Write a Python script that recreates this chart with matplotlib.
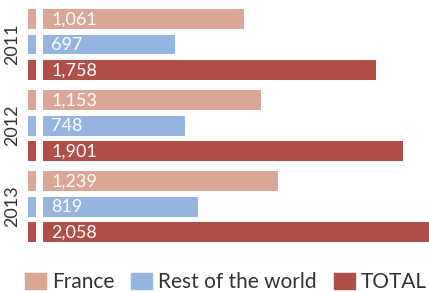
import matplotlib
matplotlib.use('Agg')
import matplotlib.pyplot as plt
from matplotlib.patches import Patch

years = ['2011', '2012', '2013']
series = ['France', 'Rest of the world', 'TOTAL']
france = [1061, 1153, 1239]
rest = [697, 748, 819]
total = [1758, 1901, 2058]

colors = ['#DBA597', '#95B4DF', '#B04F47']

plt.rcParams['font.family'] = ['Lato', 'DejaVu Sans']

fig = plt.figure(figsize=(4.29, 2.92), dpi=100)
ax = fig.add_axes([28 / 429, 42 / 292, 401 / 429, 250 / 292])

values = [france, rest, total]
for g, year in enumerate(years):
    for k in range(3):
        y = 0.745 + g * 3.18 + k
        v = values[k][g]
        # petit repère à gauche
        ax.barh(y, 40, left=-82, height=0.78, color=colors[k])
        ax.barh(y, v, left=0, height=0.78, color=colors[k])
        ax.text(40, y + 0.03, f'{v:,}', color='white', fontsize=13,
                va='center', ha='left')
    ax.text(-82 - 16 / 0.189, 0.745 + g * 3.18 + 1, year, rotation=90,
            fontsize=13, color='#333333', va='center', ha='center')

ax.set_xlim(-82, 2040)
ax.set_ylim(250 / 25.5, 0)
ax.axis('off')

handles = [Patch(color=c) for c in colors]
fig.legend(handles, series, loc='lower center', ncol=3,
           bbox_to_anchor=(0.527, -0.065), frameon=False, fontsize=15,
           handlelength=1.0, handleheight=0.8, handletextpad=0.3,
           columnspacing=0.8, labelcolor='#333333')

fig.savefig('out.png', dpi=100)
